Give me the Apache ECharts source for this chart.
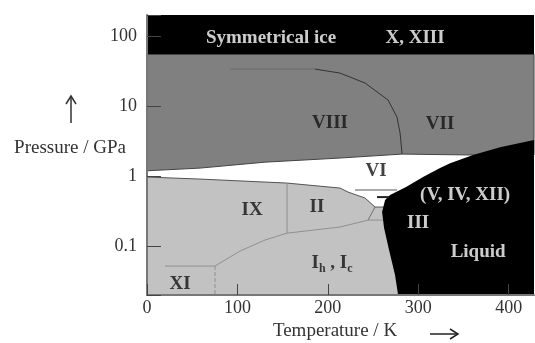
<!DOCTYPE html>
<html>
<head>
<meta charset="utf-8">
<script src="https://cdn.jsdelivr.net/npm/echarts@6/dist/echarts.min.js"></script>
<style>html,body{margin:0;padding:0;background:#fff}#c{width:535px;height:343px}</style>
</head>
<body>
<div id="c"></div>
<script>
// ---- data (Temperature K, Pressure GPa) ----
const xTicks = [0, 100, 200, 300, 400];
const yTicks = [0.1, 1, 10, 100];
const symmetricBand = [[0, 55], [428, 55], [428, 200], [0, 200]];
const darkRegion = [[0, 55], [428, 55], [428, 2.0], [360.6, 2.0], [282.1, 2.06], [213.5, 1.81], [130.5, 1.58], [58.6, 1.30], [0, 1.19]];
const lightRegion = [[0, 0.02], [0, 0.968], [58.6, 0.906], [154.9, 0.794], [213.5, 0.674], [222.3, 0.591], [241.2, 0.485], [252.2, 0.361], [264.4, 0.361], [302, 0.02]];
const liquidRegion = [[277.7, 0.02], [274.3, 0.0385], [267.7, 0.0877], [262.2, 0.181], [260.0, 0.306], [263.3, 0.454], [268.8, 0.535], [286.5, 0.696], [305.3, 0.968], [324.1, 1.30], [335.2, 1.53], [360.6, 2.0], [390.5, 2.59], [428, 3.27], [428, 0.02]];
const viiViiiFaint = [[91.8, 33.8], [185.8, 33.8]];
const viiViiiLine = [[185.8, 33.8], [213.5, 29.6], [241.2, 21.3], [266.6, 12.2], [276.5, 6.96], [279.9, 4.11], [282.1, 2.06]];
const ixIiLine = [[154.9, 0.794], [154.9, 0.153]];
const ihLine = [[75.2, 0.0518], [102.9, 0.0849], [130.5, 0.122], [154.9, 0.153], [213.5, 0.187], [244.5, 0.235], [261.1, 0.235]];
const iiiLine = [[252.2, 0.361], [244.5, 0.235]];
const xiTop = [[19.9, 0.0518], [75.2, 0.0518]];
const xiSide = [[75.2, 0.0518], [75.2, 0.02]];
const vivLine = [[230.1, 0.631], [276.5, 0.631]];
const vivArrow = [[254.4, 0.501], [267.7, 0.501]];
const regionLabels = [
  ['Symmetrical ice', 137.2, 93.6, '#fff'],
  ['X, XIII', 296.5, 93.6, '#fff'],
  ['VIII', 202.4, 5.72, '#111'],
  ['VII', 324.1, 5.53, '#111'],
  ['VI', 253.3, 1.18, '#111'],
  ['(V, IV, XII)', 351.8, 0.535, '#fff'],
  ['III', 299.8, 0.213, '#fff'],
  ['Liquid', 366.2, 0.082, '#fff'],
  ['IX', 116.2, 0.327, '#111'],
  ['II', 188, 0.361, '#111'],
  ['{b|I}{s|h}{b| , I}{s|c}', 204.6, 0.0572, '#111'],
  ['XI', 36.5, 0.0287, '#111']
];

const FONT = '"Liberation Serif", "Times New Roman", serif';

function polySeries(points, fill, stroke, z) {
  return {
    type: 'custom', coordinateSystem: 'cartesian2d', z: z, silent: true, animation: false,
    data: points, encode: { x: 0, y: 1 },
    renderItem: function (params, api) {
      if (params.dataIndex !== 0) return null;
      const pts = points.map(function (p) { return api.coord(p); });
      return { type: 'polygon', shape: { points: pts }, style: { fill: fill, stroke: stroke, lineWidth: stroke ? 1 : 0 } };
    }
  };
}
function lineSeries(points, color, width, type, z) {
  return {
    type: 'line', data: points, showSymbol: false, symbol: 'none', silent: true, animation: false, z: z || 6,
    lineStyle: { color: color, width: width, type: type || 'solid' }
  };
}

const chart = echarts.init(document.getElementById('c'), null, { renderer: 'canvas' });
chart.setOption({
  backgroundColor: '#fff',
  animation: false,
  grid: { left: 147, right: 1, top: 15, bottom: 48 },
  xAxis: {
    type: 'value', min: 0, max: 428, interval: 100, z: 10,
    axisLine: { lineStyle: { color: '#777', width: 2 } },
    axisTick: { inside: true, length: 11, lineStyle: { color: '#444', width: 1 } },
    axisLabel: { margin: 4, fontSize: 18, fontFamily: FONT, color: '#333', showMaxLabel: false,
      formatter: function (v) { return xTicks.indexOf(v) >= 0 ? String(v) : ''; } },
    splitLine: { show: false }
  },
  yAxis: {
    type: 'log', logBase: 10, min: 0.02, max: 200, z: 10,
    axisLine: { lineStyle: { color: '#777', width: 2 } },
    axisTick: { inside: true, length: 14, lineStyle: { color: '#444', width: 1 } },
    axisLabel: { margin: 10, fontSize: 18, fontFamily: FONT, color: '#333',
      formatter: function (v) {
        for (let i = 0; i < yTicks.length; i++) { if (Math.abs(v - yTicks[i]) / yTicks[i] < 1e-6) return String(yTicks[i]); }
        return '';
      } },
    splitLine: { show: false }
  },
  series: [
    polySeries(lightRegion, '#c2c2c2', '#555', 1),
    polySeries(darkRegion, '#808080', '#444', 2),
    polySeries(symmetricBand, '#000', null, 3),
    polySeries(liquidRegion, '#000', null, 4),
    lineSeries(viiViiiFaint, '#6a6a6a', 1),
    lineSeries(viiViiiLine, '#333', 1),
    lineSeries(ixIiLine, '#909090', 1),
    lineSeries(ihLine, '#909090', 1),
    lineSeries(iiiLine, '#707070', 1),
    lineSeries(xiTop, '#909090', 1),
    lineSeries(xiSide, '#909090', 1, 'dashed'),
    lineSeries(vivLine, '#aaa', 2),
    lineSeries(vivArrow, '#222', 2),
    {
      type: 'scatter', symbolSize: 0, silent: true, animation: false, z: 8,
      data: regionLabels.map(function (r) {
        return { value: [r[1], r[2]], name: r[0],
          label: { color: r[3], rich: {
            b: { fontSize: 19, fontWeight: 'bold', fontFamily: FONT, color: r[3], lineHeight: 19, verticalAlign: 'top' },
            s: { fontSize: 12, fontWeight: 'bold', fontFamily: FONT, color: r[3], lineHeight: 12, padding: [11, 0, 0, 0] }
          } } };
      }),
      label: { show: true, position: 'inside', formatter: '{b}', fontSize: 19, fontWeight: 'bold', fontFamily: FONT }
    }
  ],
  graphic: [
    { type: 'text', style: { text: 'Pressure / GPa', x: 70, y: 148, align: 'center', verticalAlign: 'middle', font: '19px ' + FONT, fill: '#333' } },
    { type: 'line', shape: { x1: 71, y1: 123, x2: 71, y2: 97 }, style: { stroke: '#333', lineWidth: 1.5 } },
    { type: 'polyline', shape: { points: [[66, 104], [71, 96], [76, 104]] }, style: { stroke: '#333', lineWidth: 1.5, fill: null } },
    { type: 'text', style: { text: 'Temperature / K', x: 335, y: 331, align: 'center', verticalAlign: 'middle', font: '19px ' + FONT, fill: '#333' } },
    { type: 'line', shape: { x1: 430, y1: 334, x2: 458, y2: 334 }, style: { stroke: '#222', lineWidth: 1.5 } },
    { type: 'polyline', shape: { points: [[450, 329], [458, 334], [450, 339]] }, style: { stroke: '#222', lineWidth: 1.5, fill: null } }
  ]
});
</script>
</body>
</html>
